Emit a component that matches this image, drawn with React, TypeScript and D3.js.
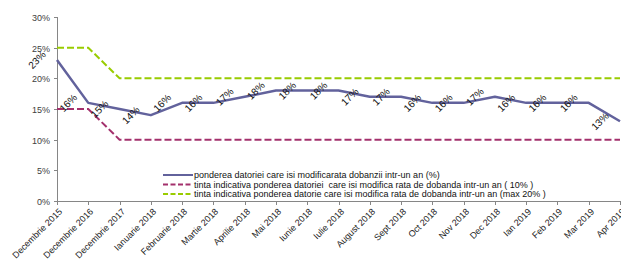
import * as d3 from 'd3';
import { useEffect, useRef } from 'react';

const WIDTH = 621;
const HEIGHT = 266;

const CATEGORIES = [
    'Decembrie 2015',
    'Decembrie 2016',
    'Decembrie 2017',
    'Ianuarie 2018',
    'Februarie 2018',
    'Martie 2018',
    'Aprilie 2018',
    'Mai 2018',
    'Iunie 2018',
    'Iulie 2018',
    'August 2018',
    'Sept 2018',
    'Oct 2018',
    'Nov 2018',
    'Dec 2018',
    'Ian 2019',
    'Feb 2019',
    'Mar 2019',
    'Apr 2019',
];

const PONDEREA = [23, 16, 15, 14, 16, 16, 17, 18, 18, 18, 17, 17, 16, 16, 17, 16, 16, 16, 13];
const TINTA_10 = [15, 15, 10, 10, 10, 10, 10, 10, 10, 10, 10, 10, 10, 10, 10, 10, 10, 10, 10];
const TINTA_20 = [25, 25, 20, 20, 20, 20, 20, 20, 20, 20, 20, 20, 20, 20, 20, 20, 20, 20, 20];

const Y_TICKS = [0, 5, 10, 15, 20, 25, 30];

const LEGEND_LABELS = [
    'ponderea datoriei care isi modificarata dobanzii intr-un an (%)',
    'tinta indicativa ponderea datoriei  care isi modifica rata de dobanda intr-un an ( 10% )',
    'tinta indicativa ponderea datorie care isi modifica rata de dobanda intr-un an (max 20% )',
];

const BLUE = '#62629c';
const RED = '#a3306c';
const GREEN = '#99cc00';
const AXIS = '#868686';

const App: React.FC = () => {
    const svgRef = useRef<SVGSVGElement | null>(null);

    useEffect(() => {
        if (!svgRef.current) return;
        const svg = d3.select(svgRef.current);
        svg.selectAll('*').remove();

        const margin = { top: 17, right: 1, bottom: 65, left: 57 };
        const innerWidth = WIDTH - margin.left - margin.right;
        const innerHeight = HEIGHT - margin.top - margin.bottom;

        const x = d3.scalePoint<string>().domain(CATEGORIES).range([0, innerWidth]);
        const y = d3.scaleLinear().domain([0, 30]).range([innerHeight, 0]);

        const g = svg.append('g').attr('transform', `translate(${margin.left},${margin.top})`);

        // Y axis
        g.append('line')
            .attr('x1', 0.5)
            .attr('x2', 0.5)
            .attr('y1', 0)
            .attr('y2', innerHeight)
            .attr('stroke', AXIS);
        const yTicks = g
            .selectAll('.ytick')
            .data(Y_TICKS)
            .join('g')
            .attr('class', 'ytick')
            .attr('transform', (d) => `translate(0,${Math.round(y(d)) + 0.5})`);
        yTicks.append('line').attr('x1', -3).attr('x2', 0).attr('stroke', AXIS);
        yTicks
            .append('text')
            .attr('x', -7)
            .attr('dy', '0.35em')
            .attr('text-anchor', 'end')
            .attr('fill', '#404040')
            .style('font-size', '9px')
            .text((d) => `${d}%`);

        // X axis
        g.append('line')
            .attr('x1', 0)
            .attr('x2', innerWidth)
            .attr('y1', innerHeight + 0.5)
            .attr('y2', innerHeight + 0.5)
            .attr('stroke', AXIS);
        const xTicks = g
            .selectAll('.xtick')
            .data(CATEGORIES)
            .join('g')
            .attr('class', 'xtick')
            .attr('transform', (d) => `translate(${Math.round(x(d)!) + 0.5},${innerHeight})`);
        xTicks.append('line').attr('y1', 0).attr('y2', 4).attr('stroke', AXIS);
        xTicks
            .append('text')
            .attr('transform', 'translate(3,9) rotate(-45)')
            .attr('text-anchor', 'end')
            .attr('dy', '0.35em')
            .attr('fill', '#222')
            .style('font-size', '9px')
            .text((d) => d);

        const line = (vals: number[]) =>
            d3
                .line<number>()
                .x((_, i) => x(CATEGORIES[i])!)
                .y((d) => y(d))(vals);

        g.append('path')
            .attr('d', line(TINTA_20))
            .attr('fill', 'none')
            .attr('stroke', GREEN)
            .attr('stroke-width', 2)
            .attr('stroke-dasharray', '7,3');
        g.append('path')
            .attr('d', line(TINTA_10))
            .attr('fill', 'none')
            .attr('stroke', RED)
            .attr('stroke-width', 2)
            .attr('stroke-dasharray', '7,3');
        g.append('path')
            .attr('d', line(PONDEREA))
            .attr('fill', 'none')
            .attr('stroke', BLUE)
            .attr('stroke-width', 2.5)
            .attr('stroke-linejoin', 'round');

        // data labels, placed left of the point, rotated
        g.selectAll('.dlabel')
            .data(PONDEREA)
            .join('text')
            .attr('class', 'dlabel')
            .attr('transform', (d, i) => `translate(${x(CATEGORIES[i])! - 20},${y(d)}) rotate(-45)`)
            .attr('text-anchor', 'middle')
            .attr('dy', '0.35em')
            .attr('fill', '#111')
            .style('font-size', '10px')
            .text((d) => `${d}%`);

        // Legend
        const legendColors = [BLUE, RED, GREEN];
        const legend = svg
            .selectAll('.legend')
            .data(LEGEND_LABELS)
            .join('g')
            .attr('class', 'legend')
            .attr('transform', (_, i) => `translate(163,${175 + i * 9.5})`);
        legend
            .append('line')
            .attr('x1', 0)
            .attr('x2', 30)
            .attr('stroke', (_, i) => legendColors[i])
            .attr('stroke-width', 2)
            .attr('stroke-dasharray', (_, i) => (i === 0 ? null : '5,2.5'));
        legend
            .append('text')
            .attr('x', 31)
            .attr('dy', '0.35em')
            .attr('fill', '#111')
            .style('font-size', '9px')
            .style('white-space', 'pre')
            .text((d) => d);
    }, []);

    return (
        <svg
            ref={svgRef}
            width={WIDTH}
            height={HEIGHT}
            style={{ position: 'absolute', left: 0, top: 0, fontFamily: '"Liberation Sans", Arial, sans-serif', background: '#fff' }}
        ></svg>
    );
};

export default App;
